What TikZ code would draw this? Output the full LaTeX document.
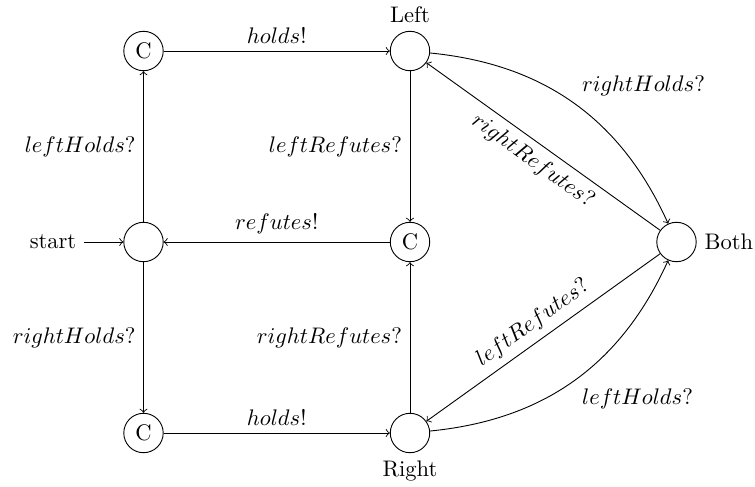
\documentclass[tikz,border=0pt]{standalone}
\begin{document}
\begin{tikzpicture}[x=0.444pt,y=-0.444pt,
  st/.style={circle,draw,minimum size=17.5pt,inner sep=0pt},
  tr/.style={->}]
\useasboundingbox (0,0) rectangle (755,486);
% states
\node[st] (c1) at (143.5,51) {C};
\node[st,label={above:Left}] (L) at (410,51) {};
\node[st] (s) at (143.5,242) {};
\node[st] (c2) at (410,242) {C};
\node[st,label={right:Both}] (B) at (676.5,242) {};
\node[st] (c3) at (143.5,433) {C};
\node[st,label={below:Right}] (R) at (410,433) {};
\node (startlbl) at (53,242) {start};
% transitions
\draw[tr] (startlbl) -- (s);
\draw[tr] (c1) -- node[above] {$holds!$} (L);
\draw[tr] (L) -- node[left] {$leftRefutes?$} (c2);
\draw[tr] (c2) -- node[above] {$refutes!$} (s);
\draw[tr] (s) -- node[left] {$leftHolds?$} (c1);
\draw[tr] (s) -- node[left] {$rightHolds?$} (c3);
\draw[tr] (c3) -- node[above] {$holds!$} (R);
\draw[tr] (R) -- node[left] {$rightRefutes?$} (c2);
\draw[tr] (L) to[bend left=30] node[above right] {$rightHolds?$} (B);
\draw[tr] (B) -- node[sloped,below] {$rightRefutes?$} (L);
\draw[tr] (B) -- node[sloped,above] {$leftRefutes?$} (R);
\draw[tr] (R) to[bend right=30] node[below right] {$leftHolds?$} (B);
\end{tikzpicture}
\end{document}
